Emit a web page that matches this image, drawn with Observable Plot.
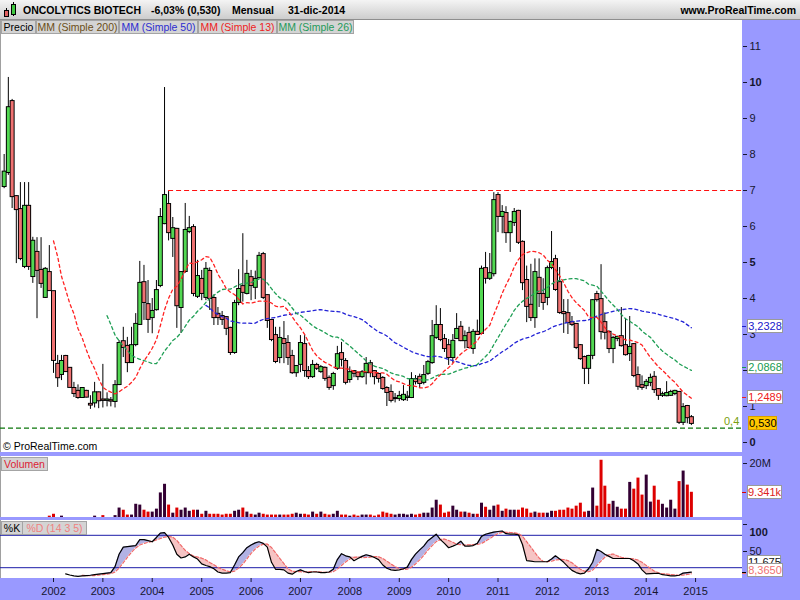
<!DOCTYPE html>
<html>
<head>
<meta charset="utf-8">
<script src="https://cdn.jsdelivr.net/npm/d3@7"></script>
<script src="https://cdn.jsdelivr.net/npm/@observablehq/plot@0.6"></script>
<style>
  html,body{margin:0;padding:0;}
  body{width:800px;height:600px;position:relative;overflow:hidden;background:#9999ff;font-family:"Liberation Sans",Arial,sans-serif;}
  #header{position:absolute;left:0;top:0;width:800px;height:19px;background:linear-gradient(#f4f4f4,#cdcdcd);border-bottom:1px solid #8e8e8e;}
  .ht{position:absolute;top:3px;font-weight:bold;font-size:10.5px;line-height:14px;color:#000;white-space:nowrap;}
  .panel{position:absolute;left:0;width:741px;background:#fff;border-left:1px solid #a0a0a0;}
  .tab{position:absolute;box-sizing:border-box;height:14px;line-height:12px;font-size:10.5px;background:#d4d4d4;border:1px solid #a4a4a4;text-align:center;white-space:nowrap;}
  .vbox{position:absolute;box-sizing:border-box;height:14px;line-height:12px;font-size:11px;background:#fff;border:1px solid #9a9a9a;text-align:center;white-space:nowrap;}
  .tk{position:absolute;left:742px;width:4px;height:1px;}
  .txt{position:absolute;white-space:nowrap;}
</style>
</head>
<body>
<div id="header">
  <svg style="position:absolute;left:3px;top:2px" width="16" height="16">
    <line x1="3.5" y1="6" x2="3.5" y2="15" stroke="#000"/>
    <rect x="1.5" y="8.5" width="4" height="6" fill="#e06060" stroke="#000"/>
    <line x1="10.5" y1="0" x2="10.5" y2="14" stroke="#000"/>
    <rect x="8.5" y="2.5" width="4" height="10" fill="#40c840" stroke="#000"/>
  </svg>
  <div class="ht" style="left:23px">ONCOLYTICS BIOTECH</div>
  <div class="ht" style="left:151px">-6,03% (0,530)</div>
  <div class="ht" style="left:232px">Mensual</div>
  <div class="ht" style="left:288px">31-dic-2014</div>
  <div class="ht" style="right:4px">www.ProRealTime.com</div>
</div>
<div class="panel" style="top:20px;height:432px;"></div>
<div class="panel" style="top:456px;height:61px;"></div>
<div class="panel" style="top:520px;height:58px;"></div>
<div id="charts"></div>
<div id="overlay"></div>
<script>
// ---------- data (monthly candles, Jan 2001 .. Dec 2014) ----------
const startYear = 2001;
const open = [
 7.11,7.5,9.47,6.83,6.47,4.89,6.56,4.61,5.28,4.78,4.03,4.72,
 4.19,2.17,1.89,2.39,2.06,1.5,1.42,1.25,1.42,1.06,1.1,1.38,
 1.18,1.17,1.16,1.14,1.61,2.8,2.67,2.22,2.72,3.28,4.44,3.83,
 3.47,3.69,4.36,6.08,6.61,5.67,5.92,3.75,4.75,5.86,5.97,4.06,
 4.53,4.03,4.75,4.0,3.56,3.5,3.47,3.17,2.5,3.89,4.33,4.14,
 4.58,4.31,4.58,5.22,4.08,3.39,2.97,2.36,2.86,2.75,2.39,1.94,
 2.17,2.72,1.97,1.83,2.14,1.97,2.06,1.78,1.58,2.06,2.47,2.25,
 1.75,1.97,1.92,1.83,1.94,2.19,1.97,1.89,1.78,1.5,1.39,1.22,
 1.22,1.19,1.25,1.25,1.75,1.81,1.67,1.92,2.22,2.92,3.25,2.86,
 2.69,2.36,2.89,3.2,2.83,3.03,2.61,3.06,3.03,4.83,4.56,4.69,
 6.86,6.28,6.36,5.83,6.11,6.42,5.56,4.5,3.81,3.47,4.56,4.11,
 4.03,4.86,5.08,4.44,3.61,3.58,3.33,3.28,2.69,2.36,2.06,2.42,
 4.11,3.97,3.33,3.06,2.61,2.89,2.94,2.69,2.47,2.72,1.86,1.58,
 1.58,1.67,1.81,1.47,1.31,1.3,1.31,1.36,1.39,0.56,1.0,0.69];
const high = [
 8.0,10.14,9.53,6.85,7.22,7.22,7.22,5.7,5.69,5.69,4.86,5.47,
 4.2,2.42,2.42,2.42,2.08,1.67,1.6,1.52,1.45,1.3,1.67,1.4,
 2.17,1.38,1.25,1.72,2.83,3.2,2.92,3.2,3.58,5.03,4.92,4.5,
 4.0,4.5,6.5,9.86,6.97,6.25,5.95,4.75,6.64,6.28,6.05,5.06,
 4.78,5.0,4.85,4.1,3.75,3.64,3.5,3.2,3.95,4.8,5.8,5.06,
 4.78,4.76,5.28,5.28,4.1,3.42,3.2,3.2,3.36,2.97,2.56,2.14,
 2.97,2.97,2.11,2.28,2.2,2.14,2.1,1.85,1.95,2.67,2.78,2.33,
 2.1,2.0,1.96,2.0,2.36,2.28,2.0,1.92,1.83,1.55,1.6,1.36,
 1.42,1.58,1.42,1.94,1.86,1.9,2.14,2.28,3.39,3.8,3.72,3.0,
 2.86,3.0,3.58,3.36,3.1,3.2,3.14,3.4,4.9,5.28,5.25,6.94,
 6.94,6.58,6.55,6.15,6.5,6.45,5.6,4.9,4.95,5.1,5.1,4.55,
 4.9,5.86,5.2,4.86,3.97,3.97,3.5,3.3,2.72,2.4,2.42,3.97,
 4.2,4.94,3.6,3.1,2.95,2.95,3.75,3.44,3.5,2.75,2.1,1.85,
 1.75,1.9,1.97,1.5,1.4,1.69,1.45,1.45,1.42,1.08,1.03,0.75];
const low = [
 7.05,7.42,6.5,4.97,5.05,4.83,4.78,4.42,3.44,4.28,4.0,4.2,
 1.92,1.53,1.72,1.95,1.52,1.25,1.2,1.23,1.24,0.92,0.96,0.94,
 0.96,0.99,0.99,0.96,1.58,2.36,1.94,2.2,2.66,3.26,3.39,3.03,
 3.02,3.65,4.3,6.05,5.6,5.14,3.17,3.03,4.7,5.8,4.05,4.0,
 3.94,3.94,3.67,3.25,3.25,3.25,2.97,2.42,2.45,3.8,3.9,4.1,
 3.94,3.97,4.55,3.97,3.17,2.8,2.19,2.19,2.19,2.14,1.89,1.81,
 1.94,1.81,1.75,1.78,2.0,1.92,1.7,1.45,1.45,2.0,2.1,1.6,
 1.65,1.8,1.72,1.78,1.6,1.8,1.6,1.65,1.45,1.0,1.1,1.1,
 1.14,1.14,1.14,1.22,1.6,1.5,1.6,1.86,2.17,2.86,2.8,2.5,
 2.14,2.2,2.86,2.8,2.6,2.6,2.45,2.98,3.0,4.4,4.5,4.6,
 5.83,5.8,5.53,5.28,6.0,5.5,4.22,3.33,3.36,3.17,3.75,3.67,
 3.8,4.8,4.2,3.56,3.03,3.0,3.22,2.58,2.28,1.61,1.61,2.3,
 3.9,2.85,2.85,2.47,2.19,2.8,2.65,2.4,2.25,1.8,1.45,1.45,
 1.47,1.55,1.36,1.17,1.25,1.27,1.28,1.3,0.5,0.47,0.52,0.47];
const close = [
 7.51,9.3,6.83,6.47,5.11,6.56,4.89,5.59,4.78,4.42,4.81,4.22,
 2.28,1.8,2.25,1.97,1.53,1.36,1.25,1.5,1.26,1.04,1.38,1.16,
 1.17,1.18,1.15,1.58,2.75,2.64,2.22,2.69,3.28,4.42,3.89,3.42,
 3.64,4.22,6.25,6.86,5.83,5.94,3.8,4.72,5.89,5.94,4.14,4.61,
 4.14,4.81,4.0,3.47,3.47,3.42,3.17,2.5,3.86,4.25,4.17,4.67,
 4.36,4.53,5.17,4.03,3.39,2.86,2.25,2.89,2.75,2.36,1.94,2.11,
 2.75,2.0,1.83,2.14,2.06,2.08,1.78,1.53,1.89,2.44,2.31,1.67,
 1.94,1.92,1.83,1.94,2.17,1.94,1.83,1.78,1.5,1.39,1.17,1.22,
 1.28,1.31,1.26,1.75,1.69,1.64,1.86,2.22,2.94,3.25,2.86,2.61,
 2.36,2.81,3.14,2.83,2.94,2.64,3.06,3.0,4.81,4.56,4.69,6.72,
 6.28,6.39,5.83,6.11,6.39,5.56,4.44,3.78,3.47,4.72,4.14,3.89,
 4.83,5.0,4.25,3.61,3.58,3.33,3.28,2.64,2.33,2.06,2.39,3.94,
 3.97,3.08,3.06,2.61,2.89,2.92,2.69,2.44,2.64,1.86,1.56,1.53,
 1.67,1.78,1.47,1.31,1.33,1.36,1.39,1.42,0.56,0.97,0.69,0.53];
// volume in millions of shares
const volumeM = [
 0,0,0,0,0,0,0,0,0,0,0,0.5,
 1.2,0,0.5,0,0,0,0,0,0,0,0.5,0,
 0.7,0,0,0.7,3.5,2.7,0.9,0.9,4.9,4.6,2.7,2.0,
 2.0,3.1,9.1,12.3,4.6,1.6,3.5,2.7,3.5,2.3,2.7,2.7,
 1.2,2.3,1.2,1.2,1.2,0.9,1.2,1.2,2.3,2.7,3.5,2.0,
 1.2,0.9,1.6,1.2,0.9,0.9,0.9,0.9,0.9,0.9,1.2,1.6,
 1.2,1.2,0.9,2.0,1.2,2.0,1.2,0.9,1.2,2.3,0.9,0.9,
 0.5,0.9,0.5,0.9,0.9,0.9,0.5,0.9,2.0,1.6,1.2,0.9,
 1.2,1.2,0.9,1.2,0.9,1.2,1.6,1.6,3.5,6.4,4.6,1.6,
 2.0,4.2,2.7,2.0,2.0,1.6,1.2,1.2,5.3,3.8,2.7,4.2,
 4.6,2.3,3.1,2.7,2.7,2.7,3.5,3.1,1.6,2.0,1.6,1.6,
 1.6,2.3,2.3,2.7,2.7,3.5,3.1,4.2,5.3,2.0,2.3,10.9,
 4.2,21.2,11.6,4.9,6.0,3.8,3.1,3.1,13.0,10.5,14.6,8.3,
 15.7,5.7,11.6,6.4,4.9,3.5,6.4,3.1,13.3,17.2,12.0,9.341];
// Stochastic %K (14 3 5)
const stochK = [
 null,null,null,null,null,null,null,null,null,null,null,null,
 null,null,null,8.5,6.5,5,4,5,5.5,6,7,8,
 9,10,11,22,45,58,59,60,61,72,72,70,
 68,76,84,85,76,62,45,38,40,45,40,36,
 27,24,22,18,12,10,10,11,25,40,48,57,
 62,66,68,65,58,30,17,17,16,10,8,13,
 16,13,11,12,12,11,11,12,17,35,46,42,
 40,33,37,41,44,42,39,35,25,19,16,15,
 16,18,21,35,45,53,60,70,76,82,72,65,
 57,60,63,69,60,60,61,65,78,82,84,86,
 87,88,83,82,82,81,63,33,32,31,31,31,
 31,36,42,36,30,22,15,11,8.5,10,18,30,
 54,50,45,41,37,37,37,37,37,33,27,16,
 8.5,9,9.5,9.7,7,6,5,5,6,10,11,11.675];
const yearLabels = [2002,2003,2004,2005,2006,2007,2008,2009,2010,2011,2012,2013,2014,2015];
const priceTicks = [0,1,2,3,4,5,6,7,8,9,10,11];
const hiddenPriceTickLabels = [2]; // covered by the value boxes in the reference
const boldPriceTicks = ["0","5","10"];
const resistance = [{value: 7, fromYear: 2004, fromMonth: 4}];
const supportLevel = 0.4;
const maPeriods = [{k: 50, color: "#2323d6"}, {k: 26, color: "#1f9f55"}, {k: 13, color: "#ff2222"}];
const lastLabels = [
  {text: "3,2328", value: 3.2328, color: "#2020cc"},
  {text: "2,0868", value: 2.0868, color: "#159a50"},
  {text: "1,2489", value: 1.2489, color: "#ee2020"}
];
const lastClose = {text: "0,530", value: 0.530};
const volLabel = {text: "9.341k", value: 9.341};
const stochLabels = [{text: "11,675", value: 11.675, color: "#111"}, {text: "8,3650", value: 8.365, color: "#f07070"}];

// ---------- derived ----------
const dates = open.map((_, i) => new Date(Date.UTC(startYear, i, 1)));
const candles = dates.map((date, i) => ({
  date, open: open[i], high: high[i], low: low[i], close: close[i],
  volume: volumeM[i], up: close[i] >= open[i],
  top: Math.max(open[i], close[i]), bot: Math.min(open[i], close[i])
}));
const stoch = dates.map((date, i) => {
  const k = stochK[i];
  let d = null;
  if (i >= 19 && stochK[i - 4] != null) d = d3.mean(stochK.slice(i - 4, i + 1));
  return {date, k, d};
});
const stochDef = stoch.filter(s => s.k != null);
const stochBoth = stoch.filter(s => s.k != null && s.d != null);

const xDomain = [new Date(Date.UTC(2000, 11, 5)), new Date(Date.UTC(2015, 11, 14))];
const GREEN = "#52d852", RED = "#ef7272";
const baseStyle = {fontSize: "11px", fontFamily: "'Liberation Sans', Arial, sans-serif", background: "transparent", color: "#161630", overflow: "visible"};

// ---------- price panel ----------
const PRICE_TOP = 21, PRICE_H = 431;
const price = Plot.plot({
  width: 800, height: PRICE_H,
  marginLeft: 0, marginRight: 58, marginTop: 0, marginBottom: 0,
  style: baseStyle,
  color: {type: "identity"},
  x: {type: "utc", domain: xDomain, axis: null},
  y: {domain: [-10 / 36, 421 / 36], axis: "right", ticks: priceTicks, tickSize: 4, tickPadding: 3,
      tickFormat: d => hiddenPriceTickLabels.includes(d) ? "" : String(d), label: null},
  marks: [
    Plot.ruleY([supportLevel], {stroke: "#0a760a", strokeDasharray: "5,3", strokeWidth: 1.2}),
    Plot.ruleY(resistance, {y: "value", x1: d => new Date(Date.UTC(d.fromYear, d.fromMonth, 1)), x2: () => xDomain[1], stroke: "#ff1010", strokeDasharray: "5,3", strokeWidth: 1.2}),
    Plot.ruleX(candles, {x: "date", y1: "low", y2: "high", stroke: "#000", strokeWidth: 1}),
    Plot.ruleX(candles, {x: "date", y1: "top", y2: "bot", stroke: "#000", strokeWidth: 5, insetTop: -1, insetBottom: -1}),
    Plot.ruleX(candles, {x: "date", y1: "top", y2: "bot", stroke: d => d.up ? GREEN : RED, strokeWidth: 3}),
    ...maPeriods.map(m => Plot.lineY(candles, Plot.windowY({k: m.k, anchor: "end", strict: true}, {x: "date", y: "close", stroke: m.color, strokeWidth: 1.3, strokeDasharray: "3,3"})))
  ]
});
// ---------- volume panel ----------
const VOL_TOP = 456, VOL_H = 61;
const volume = Plot.plot({
  width: 800, height: VOL_H,
  marginLeft: 0, marginRight: 58, marginTop: 0, marginBottom: 0,
  style: baseStyle,
  color: {type: "identity"},
  x: {type: "utc", domain: xDomain, axis: null},
  y: {domain: [0, VOL_H / 2.7], axis: "right", ticks: [20], tickSize: 4, tickPadding: 3, tickFormat: d => d + "M", label: null},
  marks: [
    Plot.ruleX(candles.filter(d => d.volume > 0), {x: "date", y1: 0, y2: "volume", stroke: d => d.up ? "#330033" : "#dd0000", strokeWidth: 3})
  ]
});
// ---------- stochastic panel ----------
const ST_TOP = 520, ST_H = 80;
const stochPlot = Plot.plot({
  width: 800, height: ST_H,
  marginLeft: 0, marginRight: 58, marginTop: 0, marginBottom: 22,
  style: baseStyle,
  color: {type: "identity"},
  x: {type: "utc", domain: xDomain, ticks: yearLabels.map(y => new Date(Date.UTC(y, 0, 1))), tickFormat: d => String(d.getUTCFullYear()), tickSize: 4, tickPadding: 5, label: null},
  y: {domain: [0, 58 / 0.54], axis: "right", ticks: [50, 100], tickSize: 4, tickPadding: 3, label: null},
  marks: [
    Plot.areaY(stochBoth, {x: "date", y1: "d", y2: d => Math.max(d.k, d.d), fill: "#b2b2e4"}),
    Plot.areaY(stochBoth, {x: "date", y1: "k", y2: d => Math.max(d.k, d.d), fill: "#f6c4c4"}),
    Plot.ruleY([20, 80], {stroke: "#1c1ca8", strokeWidth: 1}),
    Plot.lineY(stochBoth, {x: "date", y: "d", stroke: "#f06a6a", strokeWidth: 1.2, strokeDasharray: "3,2"}),
    Plot.lineY(stochDef, {x: "date", y: "k", stroke: "#000", strokeWidth: 1.2})
  ]
});

const charts = document.getElementById("charts");
[[price, PRICE_TOP], [volume, VOL_TOP], [stochPlot, ST_TOP]].forEach(([svg, top]) => {
  svg.style.position = "absolute";
  svg.style.left = "0px";
  svg.style.top = top + "px";
  charts.appendChild(svg);
});
d3.select(price).selectAll("text").filter(function () { return boldPriceTicks.includes(this.textContent.trim()); }).attr("font-weight", "bold");
d3.select(stochPlot).selectAll("text").filter(function () { return this.textContent.trim() === "100"; }).attr("font-weight", "bold").attr("dy", "0.7em");

// ---------- overlays (tabs, value boxes) ----------
const ov = document.getElementById("overlay");
function add(html) { ov.insertAdjacentHTML("beforeend", html); }
const py = v => PRICE_TOP + 421 - 36 * v;
const tabs = [
  {t: "Precio", c: "#000", l: 1, w: 35}, {t: "MM (Simple 200)", c: "#6b4e16", l: 36, w: 83},
  {t: "MM (Simple 50)", c: "#2c2cd0", l: 119, w: 79}, {t: "MM (Simple 13)", c: "#ee2222", l: 198, w: 79},
  {t: "MM (Simple 26)", c: "#1f9a5a", l: 277, w: 77}
];
tabs.forEach(t => add(`<div class="tab" style="left:${t.l}px;top:20px;width:${t.w}px;color:${t.c}">${t.t}</div>`));
add(`<div class="tab" style="left:1px;top:457px;width:47px;color:#dd2233">Volumen</div>`);
add(`<div class="tab" style="left:1px;top:521px;width:22px;color:#000">%K</div>`);
add(`<div class="tab" style="left:22px;top:521px;width:65px;color:#f08080">%D (14 3 5)</div>`);
add(`<div class="txt" style="left:3px;top:440px;font-size:10.5px;color:#000">© ProRealTime.com</div>`);
add(`<div class="txt" style="left:724px;top:415px;font-size:11px;color:#7a9e10">0,4</div>`);
lastLabels.forEach(l => {
  const y = py(l.value);
  add(`<div class="tk" style="top:${Math.round(y)}px;background:${l.color}"></div>`);
  add(`<div class="vbox" style="left:747px;top:${Math.round(y - 7)}px;width:36px;color:${l.color}">${l.text}</div>`);
});
{
  const y = py(lastClose.value);
  add(`<div class="vbox" style="left:748px;top:${Math.round(y - 7)}px;width:29px;background:#ffc800;border-color:#d9a000;color:#000">${lastClose.text}</div>`);
}
{
  const y = VOL_TOP + VOL_H - 2.7 * volLabel.value;
  add(`<div class="tk" style="top:${Math.round(y)}px;background:#dd0000"></div>`);
  add(`<div class="vbox" style="left:747px;top:${Math.round(y - 7)}px;width:35px;color:#dd2222">${volLabel.text}</div>`);
}
add(`<div class="tk" style="top:${Math.round(ST_TOP + 58 - 0.54 * stochLabels[0].value)}px;background:#000"></div>`);
add(`<div class="tk" style="top:${Math.round(ST_TOP + 58 - 0.54 * stochLabels[1].value)}px;background:#f07070"></div>`);
add(`<div class="vbox" style="left:747px;top:555px;width:34px;color:${stochLabels[0].color}">${stochLabels[0].text}</div>`);
add(`<div class="vbox" style="left:747px;top:563px;width:36px;color:${stochLabels[1].color}">${stochLabels[1].text}</div>`);
</script>
</body>
</html>
